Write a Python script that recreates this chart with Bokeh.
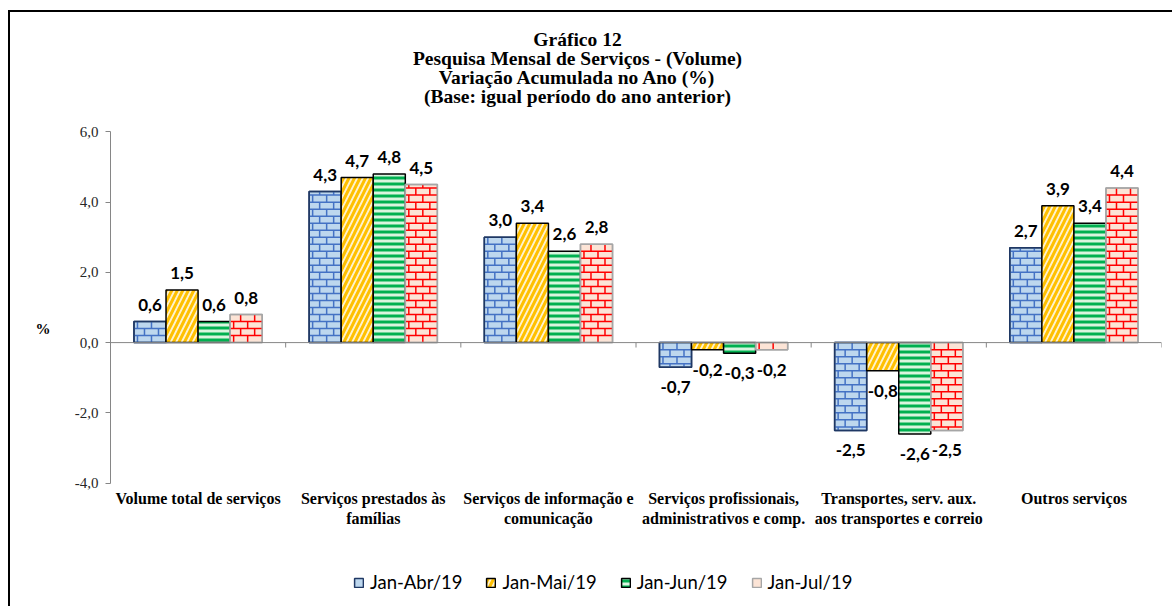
import math
from bokeh.plotting import figure
from bokeh.models import (Range1d, FixedTicker, Label, Legend, LegendItem,
                          ColumnDataSource, Span, LinearAxis)
from bokeh.core.properties import value
from bokeh.embed import file_html
from bokeh.resources import INLINE

# ---------------- data ----------------
categories = [
    "Volume total de serviços",
    "Serviços prestados às\nfamílias",
    "Serviços de informação e\ncomunicação",
    "Serviços profissionais,\nadministrativos e comp.",
    "Transportes, serv. aux.\naos transportes e correio",
    "Outros serviços",
]
series_names = ["Jan-Abr/19", "Jan-Mai/19", "Jan-Jun/19", "Jan-Jul/19"]
jan_abr = [0.6, 4.3, 3.0, -0.7, -2.5, 2.7]
jan_mai = [1.5, 4.7, 3.4, -0.2, -0.8, 3.9]
jan_jun = [0.6, 4.8, 2.6, -0.3, -2.6, 3.4]
jan_jul = [0.8, 4.5, 2.8, -0.2, -2.5, 4.4]
y_ticks = [-4, -2, 0, 2, 4, 6]
y_tick_labels = ["-4,0", "-2,0", "0,0", "2,0", "4,0", "6,0"]
title_lines = [
    "Gráfico 12",
    "Pesquisa Mensal de Serviços - (Volume)",
    "Variação Acumulada no Ano (%)",
    "(Base: igual período do ano anterior)",
]
y_label = "%"

series_values = [jan_abr, jan_mai, jan_jun, jan_jul]

# ---------------- layout constants ----------------
PX_PER_UNIT = 35.0          # vertical scale of the value axis
Y_MIN, Y_MAX = -4, 6
FRAME_TOP_PAD = 119         # px of frame above y = 6
FRAME_BOT_PAD = 125         # px of frame below y = -4

SERIF = "Liberation Serif"
SANS = "Lato"

styles = [
    dict(fill_color="#BDD7EE", line_color="#1F3864"),
    dict(fill_color="#FFF2CC", line_color="#000000", hatch_pattern="right_diagonal_line",
         hatch_color="#FFC000", hatch_weight=3, hatch_scale=11),
    dict(fill_color="#D9F5DF", line_color="#000000", hatch_pattern="horizontal_line",
         hatch_color="#00B050", hatch_weight=3, hatch_scale=6),
    dict(fill_color="#FCE4D6", line_color="#A6A6A6"),
]
brick_colors = ["#4472C4", None, None, "#FF0000"]

y_lo = Y_MIN - FRAME_BOT_PAD / PX_PER_UNIT
y_hi = Y_MAX + FRAME_TOP_PAD / PX_PER_UNIT

p = figure(width=1164, height=596, x_range=Range1d(0, 6), y_range=Range1d(y_lo, y_hi),
           output_backend="svg", toolbar_location=None, title=None,
           min_border_left=100, min_border_right=13,
           min_border_top=0, min_border_bottom=0)
p.styles = {"margin-left": "8px", "margin-top": "10px",
            "border-left": "2px solid #000000", "border-top": "2px solid #000000"}
p.outline_line_color = None
p.xgrid.grid_line_color = None
p.ygrid.grid_line_color = None
p.background_fill_color = "white"
p.border_fill_color = "white"
p.xaxis.visible = False

# y axis
yax = p.yaxis[0]
yax.ticker = FixedTicker(ticks=y_ticks)
yax.bounds = (Y_MIN, Y_MAX)
yax.major_label_overrides = {t: l for t, l in zip(y_ticks, y_tick_labels)}
yax.axis_line_color = "#868686"
yax.major_tick_line_color = "#868686"
yax.major_tick_out = 5
yax.major_tick_in = 0
yax.minor_tick_line_color = None
yax.major_label_text_font = SERIF
yax.major_label_text_font_size = "15px"
yax.major_label_text_color = "#262626"
yax.major_label_standoff = 7

# second (invisible) left axis that only carries the "%" label
# (two leading blank lines push the label a little below the panel centre)
pct_axis = LinearAxis(ticker=FixedTicker(ticks=[]),
                      axis_line_color=None, major_tick_line_color=None,
                      minor_tick_line_color=None, major_tick_out=0, major_tick_in=0,
                      major_label_standoff=0, axis_label="\n\n" + y_label,
                      axis_label_orientation="horizontal", axis_label_standoff=21,
                      axis_label_text_font=SERIF, axis_label_text_font_style="bold",
                      axis_label_text_font_size="15px", axis_label_text_color="#000000",
                      axis_label_text_line_height=1.15)
p.add_layout(pct_axis, "left")

n = len(categories)
centers = [i + 0.5 for i in range(n)]

# category labels under the plot area
p.text(x=centers, y=[Y_MIN] * n, text=categories, text_align="center",
       text_baseline="top", y_offset=7, text_font=value(SERIF),
       text_font_style="bold", text_font_size="16px", text_color="#000000",
       text_line_height=1.15)

# zero line with category separators
p.add_layout(Span(location=0, dimension="width", line_color="#868686", line_width=1))
bounds = list(range(n + 1))
p.segment(x0=bounds, y0=[0] * len(bounds), x1=bounds, y1=[-0.14] * len(bounds),
          line_color="#868686", line_width=1)

# bars
bw = 0.183
row_h = 7 / PX_PER_UNIT       # brick height
brick_w = 14 / 175.0          # brick width
items = []
for j, (name, vals, st) in enumerate(zip(series_names, series_values, styles)):
    xs = [c + (j - 1.5) * bw for c in centers]
    src = ColumnDataSource(dict(
        x=xs, top=vals,
        label=[f"{v:.1f}".replace(".", ",") for v in vals],
        base=["bottom" if v >= 0 else "top" for v in vals],
        yoff=[-11 if v >= 0 else 14 for v in vals],
    ))
    r = p.vbar(x="x", top="top", bottom=0, width=bw, source=src, line_width=1.5, **st)

    if brick_colors[j]:
        hx0, hx1, hy, vx, vy0, vy1 = [], [], [], [], [], []
        for xc, v in zip(xs, vals):
            left, right = xc - bw / 2, xc + bw / 2
            sgn = 1 if v >= 0 else -1
            a = abs(v)
            nrows = int(math.ceil(a / row_h - 1e-9))
            for k in range(1, nrows):
                hx0.append(left); hx1.append(right); hy.append(sgn * k * row_h)
            for k in range(nrows):
                y0 = sgn * k * row_h
                y1 = sgn * min((k + 1) * row_h, a)
                xv = left + (k % 2) * brick_w / 2 + brick_w * 0.25
                while xv < right - 0.004:
                    if xv > left + 0.004:
                        vx.append(xv); vy0.append(y0); vy1.append(y1)
                    xv += brick_w
        p.segment(x0=hx0, y0=hy, x1=hx1, y1=hy, line_color=brick_colors[j], line_width=1.5)
        p.segment(x0=vx, y0=vy0, x1=vx, y1=vy1, line_color=brick_colors[j], line_width=1.5)
        # re-draw outline on top of the bricks
        p.vbar(x="x", top="top", bottom=0, width=bw, source=src, line_width=1.5,
               fill_color=None, line_color=st["line_color"])

    p.text(x="x", y="top", text="label", source=src, text_align="center",
           text_baseline="base", y_offset="yoff", text_font=value(SANS),
           text_font_style="bold", text_font_size="17px", text_color="#000000")
    items.append(LegendItem(label=name, renderers=[r]))

legend = Legend(items=items, orientation="horizontal", location=(243, 15),
                glyph_width=11, glyph_height=11, label_standoff=6, spacing=23,
                padding=0, margin=0, border_line_color=None,
                background_fill_alpha=0, label_text_font=SANS,
                label_text_font_size="18.5px", label_text_color="#000000")
p.add_layout(legend)

# title lines (page y centres 39, 57.5, 77, 96 px)
title_px = [39, 57.5, 77, 96]
for line, ty in zip(title_lines, title_px):
    y_data = Y_MAX + (131 - ty) / PX_PER_UNIT
    p.add_layout(Label(x=467, y=y_data, x_units="screen", y_units="data", text=line,
                       text_align="center", text_baseline="middle",
                       text_font=SERIF, text_font_style="bold",
                       text_font_size="19.5px", text_color="#000000"))

open("out.html", "w").write(file_html(p, INLINE))
